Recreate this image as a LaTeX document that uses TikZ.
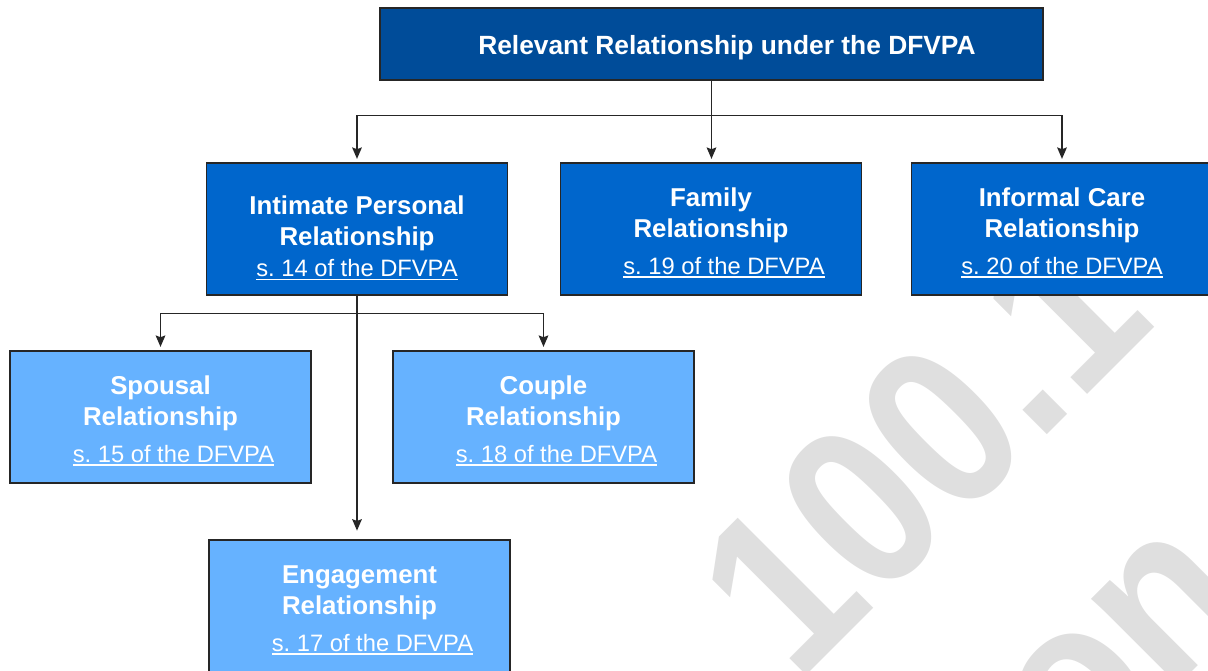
\documentclass[tikz,border=0pt]{standalone}
\usepackage{fontspec}
\setmainfont{Liberation Sans}
\usetikzlibrary{arrows.meta}
\definecolor{boxdark}{HTML}{004C99}
\definecolor{boxmid}{HTML}{0066CC}
\definecolor{boxlight}{HTML}{66B2FF}
\definecolor{wmark}{HTML}{DFDFDF}
\newsavebox\refbox
\newcommand{\secref}[1]{{\mdseries\fontsize{13.5}{17.6}\selectfont\sbox\refbox{#1}\rlap{\usebox\refbox}\rule[-2.2pt]{\wd\refbox}{0.9pt}}}
\begin{document}
\begin{tikzpicture}[x=0.02cm, y=-0.02cm,
  box/.style={draw=black!85, line width=0.7pt, rectangle, minimum width=6.02cm, minimum height=2.64cm,
    inner sep=0pt, text=white, align=center, font=\fontsize{14.7}{17.6}\selectfont\bfseries},
  wm/.style={text=wmark, rotate=45, anchor=base west, inner sep=0pt, font=\fontsize{132}{160}\selectfont\bfseries},
  link/.style={draw=black!85, line width=0.9pt},
  arr/.style={link, -{Stealth[length=6.5pt,width=5.5pt,inset=1pt]}, shorten >=2pt}]
% Page frame
\path[use as bounding box] (0,0) rectangle (1208,670);
\clip (0,0) rectangle (1208,670);
% Watermark
\node[wm] (wm1) at (797,685) {\scalebox{0.88}[1]{100.1}};
\node[wm] (wm2) at (1080,784) {\scalebox{0.88}[1]{on}};
% Top level
\node[box, fill=boxdark, minimum width=13.26cm, minimum height=1.44cm, font=\fontsize{15}{18}\selectfont\bfseries] (top) at (711.5,44) {\rule{0pt}{15.6pt}\hspace*{17.6pt}Relevant Relationship under the DFVPA};
% Second level
\node[box, fill=boxmid] (ipr) at (357,229) {\rule{0pt}{21pt}Intimate Personal\\Relationship\\\secref{s.\ 14 of the DFVPA}};
\node[box, fill=boxmid] (fam) at (711,229) {\rule{0pt}{15.3pt}Family\\Relationship\\[3pt]\hspace*{14.8pt}\secref{s.\ 19 of the DFVPA}};
\node[box, fill=boxmid] (care) at (1062,229) {\rule{0pt}{15.3pt}Informal Care\\Relationship\\[3pt]\secref{s.\ 20 of the DFVPA}};
% Third level
\node[box, fill=boxlight] (spouse) at (160.5,417) {\rule{0pt}{15.3pt}Spousal\\Relationship\\[3pt]\hspace*{14.8pt}\secref{s.\ 15 of the DFVPA}};
\node[box, fill=boxlight] (couple) at (543.5,417) {\rule{0pt}{15.3pt}Couple\\Relationship\\[3pt]\hspace*{14.8pt}\secref{s.\ 18 of the DFVPA}};
\node[box, fill=boxlight] (engage) at (359.5,606) {\rule{0pt}{15.3pt}Engagement\\Relationship\\[3pt]\hspace*{14.8pt}\secref{s.\ 17 of the DFVPA}};
% Arrows from top level
\draw[arr] (top.south) -- ++(0,35) -| (ipr.north);
\draw[arr] (top.south) -- (top.south |- fam.north);
\draw[arr] (top.south) -- ++(0,35) -| (care.north);
% Arrows from intimate personal relationship
\draw[arr] (ipr.south) -- ++(0,18) -| (spouse.north);
\draw[arr] (ipr.south) -- ++(0,18) -| (couple.north);
\draw[arr, shorten >=5pt] (ipr.south) -- (ipr.south |- engage.north);
\end{tikzpicture}
\end{document}
